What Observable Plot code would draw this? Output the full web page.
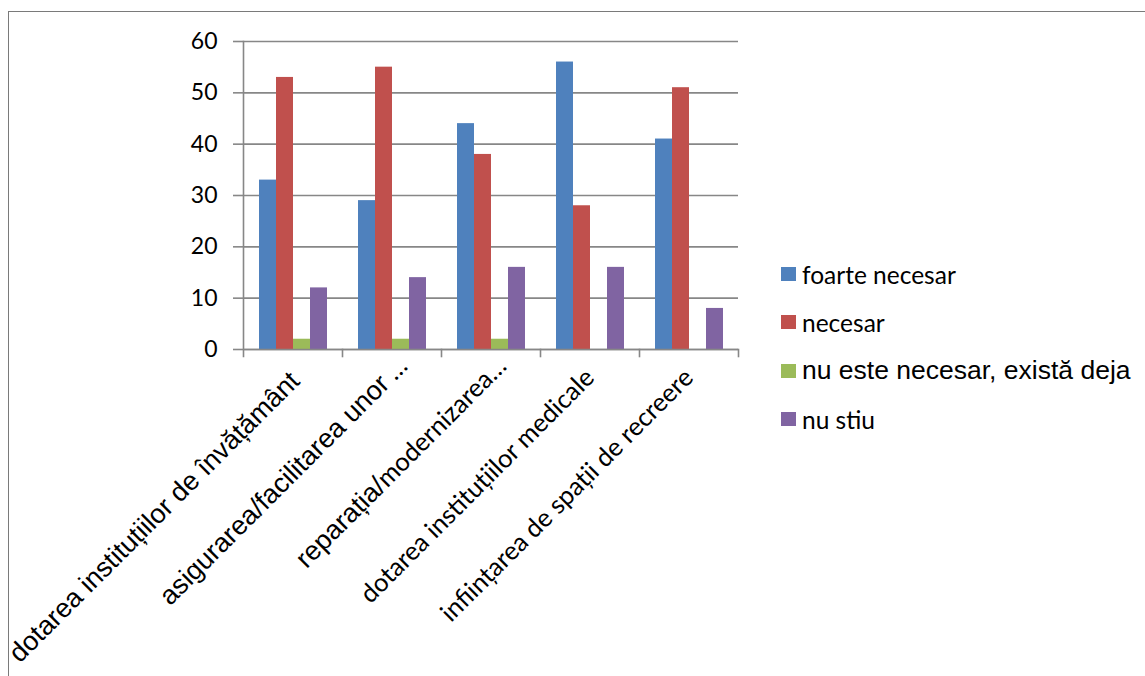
<!DOCTYPE html>
<html><head><meta charset="utf-8">
<script src="https://cdn.jsdelivr.net/npm/d3@7"></script>
<script src="https://cdn.jsdelivr.net/npm/@observablehq/plot@0.6"></script>
<style>
html,body{margin:0;padding:0;background:#fff;}
#wrap{position:relative;width:1145px;height:676px;overflow:hidden;}
#chart{position:absolute;left:0;top:0;}
#border{position:absolute;left:8px;top:11px;width:1200px;height:700px;border-top:1px solid #7a7a7a;border-left:1px solid #7a7a7a;}
#legend{position:absolute;left:781px;top:250px;}
.row{display:flex;align-items:center;height:48.3px;}
.sw{width:15px;height:14px;margin-right:6px;flex:none;}
.lab{color:#000;white-space:nowrap;}
</style></head><body>
<div id="wrap"><div id="border"></div><div id="chart"></div><div id="legend"></div></div>
<script>
const categories = [
  "dotarea instituțiilor de învățământ",
  "asigurarea/facilitarea unor …",
  "reparația/modernizarea…",
  "dotarea instituțiilor medicale",
  "inființarea de spații de recreere"
];
const series = ["foarte necesar", "necesar", "nu este necesar, există deja", "nu stiu"];
const foarteNecesar = [33, 29, 44, 56, 41];
const necesar = [53, 55, 38, 28, 51];
const nuEsteNecesar = [2, 2, 2, 0, 0];
const nuStiu = [12, 14, 16, 16, 8];
const yTicks = [0, 10, 20, 30, 40, 50, 60];
const colors = ["#4F81BD", "#C0504D", "#9BBB59", "#8064A2"];

const seriesValues = [foarteNecesar, necesar, nuEsteNecesar, nuStiu];
const rows = [];
categories.forEach((c, i) => series.forEach((s, j) => rows.push({cat: c, series: s, value: seriesValues[j][i]})));

// font rendering of the labels: the reference mixes an Arial-like and a Calibri-like face
const fullArial = [categories[0]];
const truncated = [categories[1], categories[2]];
const fullLato = [categories[3], categories[4]];
const latoTail = new Map([[categories[1], " …"], [categories[2], "modernizarea…"]]);

const gridColor = "#878787";
const mTop = 41, mBottom = 327, H = 676;
const plotH = H - mTop - mBottom;
const arialLab = {fontFamily: "Liberation Sans", fontSize: 27};
const latoLab = {fontFamily: "Lato", fontSize: 25.5};
const labBase = {fx: d => d, text: d => d, frameAnchor: "bottom", textAnchor: "end", lineAnchor: "middle", rotate: -45, fill: "#000"};

const chart = Plot.plot({
  width: 1145, height: H,
  marginTop: mTop, marginBottom: mBottom, marginLeft: 243, marginRight: 407,
  style: {fontFamily: "Lato", background: "transparent", color: "#000"},
  fx: {domain: categories, padding: 0, axis: null, label: null},
  x: {domain: series, paddingInner: 0, paddingOuter: 0.78, axis: null, label: null},
  y: {domain: [0, 60], axis: null, label: null},
  color: {domain: series, range: colors},
  marks: [
    Plot.gridY(yTicks, {stroke: gridColor, strokeOpacity: 1, strokeWidth: 1.6}),
    Plot.barY(rows, {fx: "cat", x: "series", y: "value", fill: "series"}),
    Plot.ruleY([0], {stroke: gridColor, strokeWidth: 1.6}),
    Plot.frame({anchor: "left", facetAnchor: "left", stroke: gridColor, strokeWidth: 1.6, insetBottom: -7}),
    Plot.frame({anchor: "right", stroke: gridColor, strokeWidth: 1.6, insetTop: plotH, insetBottom: -7}),
    Plot.axisY(yTicks, {anchor: "left", label: null, tickSize: 10, tickPadding: 16, stroke: gridColor, strokeWidth: 1.6, fill: "#000", fontSize: 23, fontFamily: "Lato"}),
    Plot.text(fullArial, {...labBase, ...arialLab, dx: 2, dy: 27}),
    Plot.text(truncated, {...labBase, ...arialLab, dx: 11, dy: 12}),
    Plot.text(fullLato, {...labBase, ...latoLab, dx: 0, dy: 24})
  ]
});
// split truncated labels into Arial-like head and Calibri-like tail
chart.querySelectorAll("text").forEach(t => {
  const s = t.textContent;
  if (latoTail.has(s)) {
    const tail = latoTail.get(s);
    const head = s.slice(0, s.length - tail.length);
    while (t.firstChild) t.removeChild(t.firstChild);
    const ns = "http://www.w3.org/2000/svg";
    const a = document.createElementNS(ns, "tspan");
    a.textContent = head;
    const b = document.createElementNS(ns, "tspan");
    b.textContent = tail;
    b.setAttribute("font-family", latoLab.fontFamily);
    b.setAttribute("font-size", latoLab.fontSize);
    b.style.whiteSpace = "pre";
    t.appendChild(a); t.appendChild(b);
  }
});
document.getElementById("chart").appendChild(chart);

const legend = document.getElementById("legend");
series.forEach((s, i) => {
  const row = document.createElement("div");
  row.className = "row";
  const sw = document.createElement("div");
  sw.className = "sw";
  sw.style.background = colors[i];
  const lab = document.createElement("span");
  lab.className = "lab";
  lab.textContent = s;
  const arial = i === 2;
  lab.style.fontFamily = arial ? "Liberation Sans" : "Lato";
  lab.style.fontSize = arial ? "26.5px" : "24.5px";
  row.appendChild(sw); row.appendChild(lab);
  legend.appendChild(row);
});
</script>
</body></html>
